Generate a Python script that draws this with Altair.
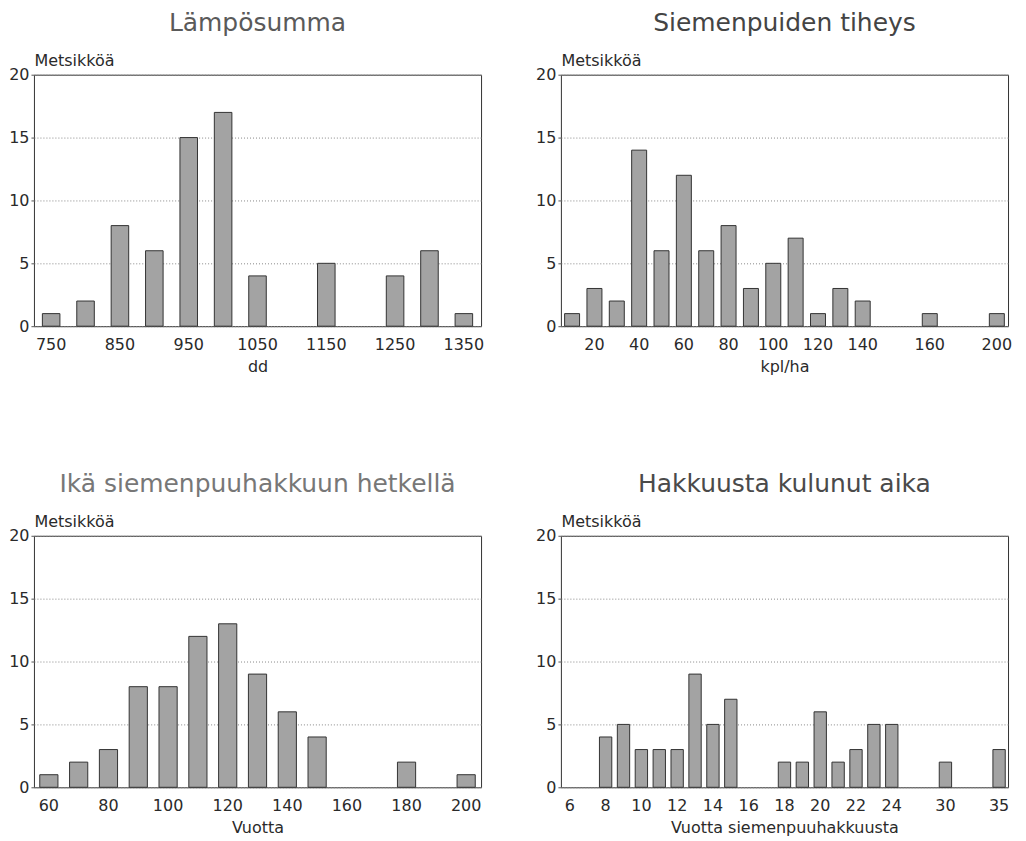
import json
import altair as alt
import pandas as pd

FONT = "DejaVu Sans"
TXT = "#2a2a2a"

# --- Lämpösumma ---
lampo_title = "Lämpösumma"
lampo_xtitle = "dd"
lampo_classes = ["750", "800", "850", "900", "950", "1000", "1050", "1100",
                 "1150", "1200", "1250", "1300", "1350"]
lampo_counts = [1, 2, 8, 6, 15, 17, 4, 0, 5, 0, 4, 6, 1]
lampo_ticks = ["750", "", "850", "", "950", "", "1050", "", "1150", "",
               "1250", "", "1350"]

# --- Siemenpuiden tiheys ---
tiheys_title = "Siemenpuiden tiheys"
tiheys_xtitle = "kpl/ha"
tiheys_classes = ["10", "20", "30", "40", "50", "60", "70", "80", "90", "100",
                  "110", "120", "130", "140", "", "", "160", "", "", "200"]
tiheys_counts = [1, 3, 2, 14, 6, 12, 6, 8, 3, 5, 7, 1, 3, 2, 0, 0, 1, 0, 0, 1]
tiheys_ticks = ["", "20", "", "40", "", "60", "", "80", "", "100", "", "120",
                "", "140", "", "", "160", "", "", "200"]

# --- Ikä siemenpuuhakkuun hetkellä ---
ika_title = "Ikä siemenpuuhakkuun hetkellä"
ika_xtitle = "Vuotta"
ika_classes = ["60", "70", "80", "90", "100", "110", "120", "130", "140",
               "150", "160", "170", "180", "190", "200"]
ika_counts = [1, 2, 3, 8, 8, 12, 13, 9, 6, 4, 0, 0, 2, 0, 1]
ika_ticks = ["60", "", "80", "", "100", "", "120", "", "140", "", "160", "",
             "180", "", "200"]

# --- Hakkuusta kulunut aika ---
aika_title = "Hakkuusta kulunut aika"
aika_xtitle = "Vuotta siemenpuuhakkuusta"
aika_classes = ["6", "7", "8", "9", "10", "11", "12", "13", "14", "15", "16",
                "17", "18", "19", "20", "21", "22", "23", "24", "", "", "30",
                "", "", "35"]
aika_counts = [0, 0, 4, 5, 3, 3, 3, 9, 5, 7, 0, 0, 2, 2, 6, 2, 3, 5, 5, 0, 0,
               2, 0, 0, 3]
aika_ticks = ["6", "", "8", "", "10", "", "12", "", "14", "", "16", "", "18",
              "", "20", "", "22", "", "24", "", "", "30", "", "", "35"]

y_ticks = [0, 5, 10, 15, 20]
y_title = "Metsikköä"


def panel(title, xtitle, classes, counts, ticks, pad, title_color):
    n = len(classes)
    df = pd.DataFrame({
        "slot": list(range(n)),
        "luokka": classes,
        "metsikoita": counts,
    })
    label_expr = json.dumps(ticks) + "[datum.value]"
    return (
        alt.Chart(
            df,
            title=alt.Title(
                title, fontSize=25, font=FONT, color=title_color,
                fontWeight="normal", anchor="middle", frame="group", offset=17,
            ),
        )
        .transform_filter("datum.metsikoita > 0")
        .mark_bar(fill="#a3a3a3", stroke="#333333", strokeWidth=1)
        .encode(
            x=alt.X(
                "slot:O",
                scale=alt.Scale(domain=list(range(n)), paddingInner=pad,
                                paddingOuter=pad / 2),
                axis=alt.Axis(
                    title=xtitle, labelExpr=label_expr, ticks=False,
                    domain=False, labelAngle=0, labelPadding=10,
                    titlePadding=6, labelFontSize=16, titleFontSize=16,
                    labelFont=FONT, titleFont=FONT, labelColor=TXT,
                    titleColor=TXT, titleFontWeight="normal",
                ),
            ),
            y=alt.Y(
                "metsikoita:Q",
                scale=alt.Scale(domain=[0, 20], nice=False),
                axis=alt.Axis(
                    values=y_ticks, title=y_title, titleAngle=0,
                    titleAlign="left", titleBaseline="alphabetic", titleX=0,
                    titleY=-9, grid=True, gridDash=[1, 2], gridColor="#888888",
                    tickSize=3, tickColor="#555555", labelPadding=2,
                    domain=False, labelFontSize=16, titleFontSize=16,
                    labelFont=FONT, titleFont=FONT, labelColor=TXT,
                    titleColor=TXT, titleFontWeight="normal",
                ),
            ),
            tooltip=["luokka:N", "metsikoita:Q"],
        )
        .properties(width=448, height=252)
    )


p1 = panel(lampo_title, lampo_xtitle, lampo_classes, lampo_counts, lampo_ticks, 0.49, "#5a5a5a")
p2 = panel(tiheys_title, tiheys_xtitle, tiheys_classes, tiheys_counts, tiheys_ticks, 0.33, "#444444")
p3 = panel(ika_title, ika_xtitle, ika_classes, ika_counts, ika_ticks, 0.39, "#777777")
p4 = panel(aika_title, aika_xtitle, aika_classes, aika_counts, aika_ticks, 0.31, "#4a4a4a")

chart = (
    alt.concat(p1, p2, p3, p4, columns=2,
               spacing=alt.RowColnumber(row=210, column=80), bounds="flush")
    .configure_view(stroke="#333333", strokeWidth=1)
    .properties(padding={"left": 0, "top": 1, "right": 5, "bottom": 5})
)

chart.save("out.html", embed_options={"renderer": "svg", "actions": False})
